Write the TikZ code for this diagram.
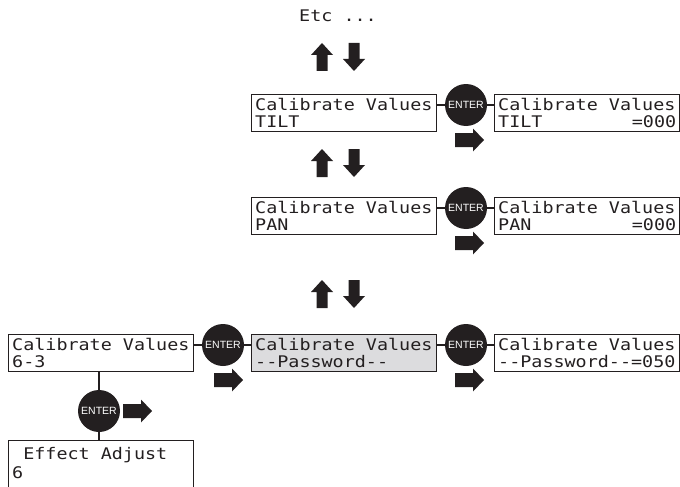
\documentclass[tikz,border=0pt]{standalone}
\usepackage{fontspec}
\newfontfamily\lcdfont[FakeStretch=1.15]{DejaVu Sans Mono}
\newfontfamily\entfont{Liberation Sans}
\definecolor{ink}{RGB}{35,31,32}
\definecolor{lcdgray}{RGB}{220,220,222}
\newcommand\lcdtwo[3][16.5pt]{\parbox[t]{178pt}{\baselineskip=#1\relax #2\newline #3}}
\tikzset{
  lcdbox/.style={draw=ink, line width=1.4pt, rectangle, minimum width=185pt, minimum height=37pt, inner sep=0pt, anchor=north west},
  lcdtxt/.style={font=\lcdfont\fontsize{16}{16.5}\selectfont, inner sep=0pt, text=ink},
  enterbtn/.style={circle, fill=ink, minimum size=42pt, inner sep=0pt, text=white, font=\entfont\fontsize{10.5}{10.5}\selectfont},
  link/.style={draw=ink, line width=1.2pt},
  uparrow/.pic={\fill[ink] (0,-14) -- (11,-2) -- (5.5,-2) -- (5.5,14) -- (-5.5,14) -- (-5.5,-2) -- (-11,-2) -- cycle;},
  downarrow/.pic={\fill[ink] (0,14) -- (11,2) -- (5.5,2) -- (5.5,-14) -- (-5.5,-14) -- (-5.5,2) -- (-11,2) -- cycle;},
  rightarrow/.pic={\fill[ink] (15,0) -- (4,-11.5) -- (4,-7) -- (-14,-7) -- (-14,7) -- (4,7) -- (4,11.5) -- cycle;},
}
\begin{document}
\begin{tikzpicture}[x=1pt,y=-1pt]
\useasboundingbox (0,0) rectangle (680,487);

% Etc
\node[lcdtxt, anchor=base] (etc) at (338,22) {Etc ...};

% up/down arrows
\pic at (322,57) {uparrow};
\pic at (354,57) {downarrow};
\pic at (322,163) {uparrow};
\pic at (354,163) {downarrow};
\pic at (322,294) {uparrow};
\pic at (354,294) {downarrow};

% Row A (TILT)
\node[lcdbox] (A1) at (251,94) {};
\node[lcdbox] (A2) at (494,94) {};
\node[lcdtxt, anchor=base west] (A1t) at ([shift={(4,16.5)}]A1.north west) {\lcdtwo{Calibrate Values}{TILT}};
\node[lcdtxt, anchor=base west] (A2t) at ([shift={(4,16.5)}]A2.north west) {\lcdtwo{Calibrate Values}{TILT\hfill=000}};
\node[enterbtn] (eA) at (466,105) {ENTER};
\draw[link] (A1.east |- eA) -- (eA.west);
\draw[link] (eA.east) -- (A2.west |- eA);
\pic at (469,140) {rightarrow};

% Row B (PAN)
\node[lcdbox] (B1) at (251,197) {};
\node[lcdbox] (B2) at (494,197) {};
\node[lcdtxt, anchor=base west] (B1t) at ([shift={(4,16.5)}]B1.north west) {\lcdtwo{Calibrate Values}{PAN}};
\node[lcdtxt, anchor=base west] (B2t) at ([shift={(4,16.5)}]B2.north west) {\lcdtwo{Calibrate Values}{PAN\hfill=000}};
\node[enterbtn] (eB) at (466,208) {ENTER};
\draw[link] (B1.east |- eB) -- (eB.west);
\draw[link] (eB.east) -- (B2.west |- eB);
\pic at (469,243) {rightarrow};

% Row C (Password)
\node[lcdbox] (C0) at (8,334) {};
\node[lcdbox, fill=lcdgray] (C1) at (251,334) {};
\node[lcdbox] (C2) at (494,334) {};
\node[lcdtxt, anchor=base west] (C0t) at ([shift={(4,16.5)}]C0.north west) {\lcdtwo{Calibrate Values}{6-3}};
\node[lcdtxt, anchor=base west] (C1t) at ([shift={(4,16.5)}]C1.north west) {\lcdtwo{Calibrate Values}{--Password--}};
\node[lcdtxt, anchor=base west] (C2t) at ([shift={(4,16.5)}]C2.north west) {\lcdtwo{Calibrate Values}{--Password--=050}};
\node[enterbtn] (eC0) at (223,345) {ENTER};
\node[enterbtn] (eC1) at (466,345) {ENTER};
\draw[link] (C0.east |- eC0) -- (eC0.west);
\draw[link] (eC0.east) -- (C1.west |- eC0);
\draw[link] (C1.east |- eC1) -- (eC1.west);
\draw[link] (eC1.east) -- (C2.west |- eC1);
\pic at (228,380) {rightarrow};
\pic at (469,380) {rightarrow};

% Effect Adjust
\node[lcdbox, minimum height=52pt] (D) at (8,440) {};
\node[lcdtxt, anchor=base west] (Dt) at ([shift={(4,19)}]D.north west) {\lcdtwo[19pt]{\phantom{x}Effect Adjust}{6}};
\node[enterbtn] (eD) at (99,411) {ENTER};
\draw[link] (C0.south -| eD) -- (eD.north);
\draw[link] (eD.south) -- (D.north -| eD);
\pic at (137,411) {rightarrow};
\end{tikzpicture}
\end{document}
